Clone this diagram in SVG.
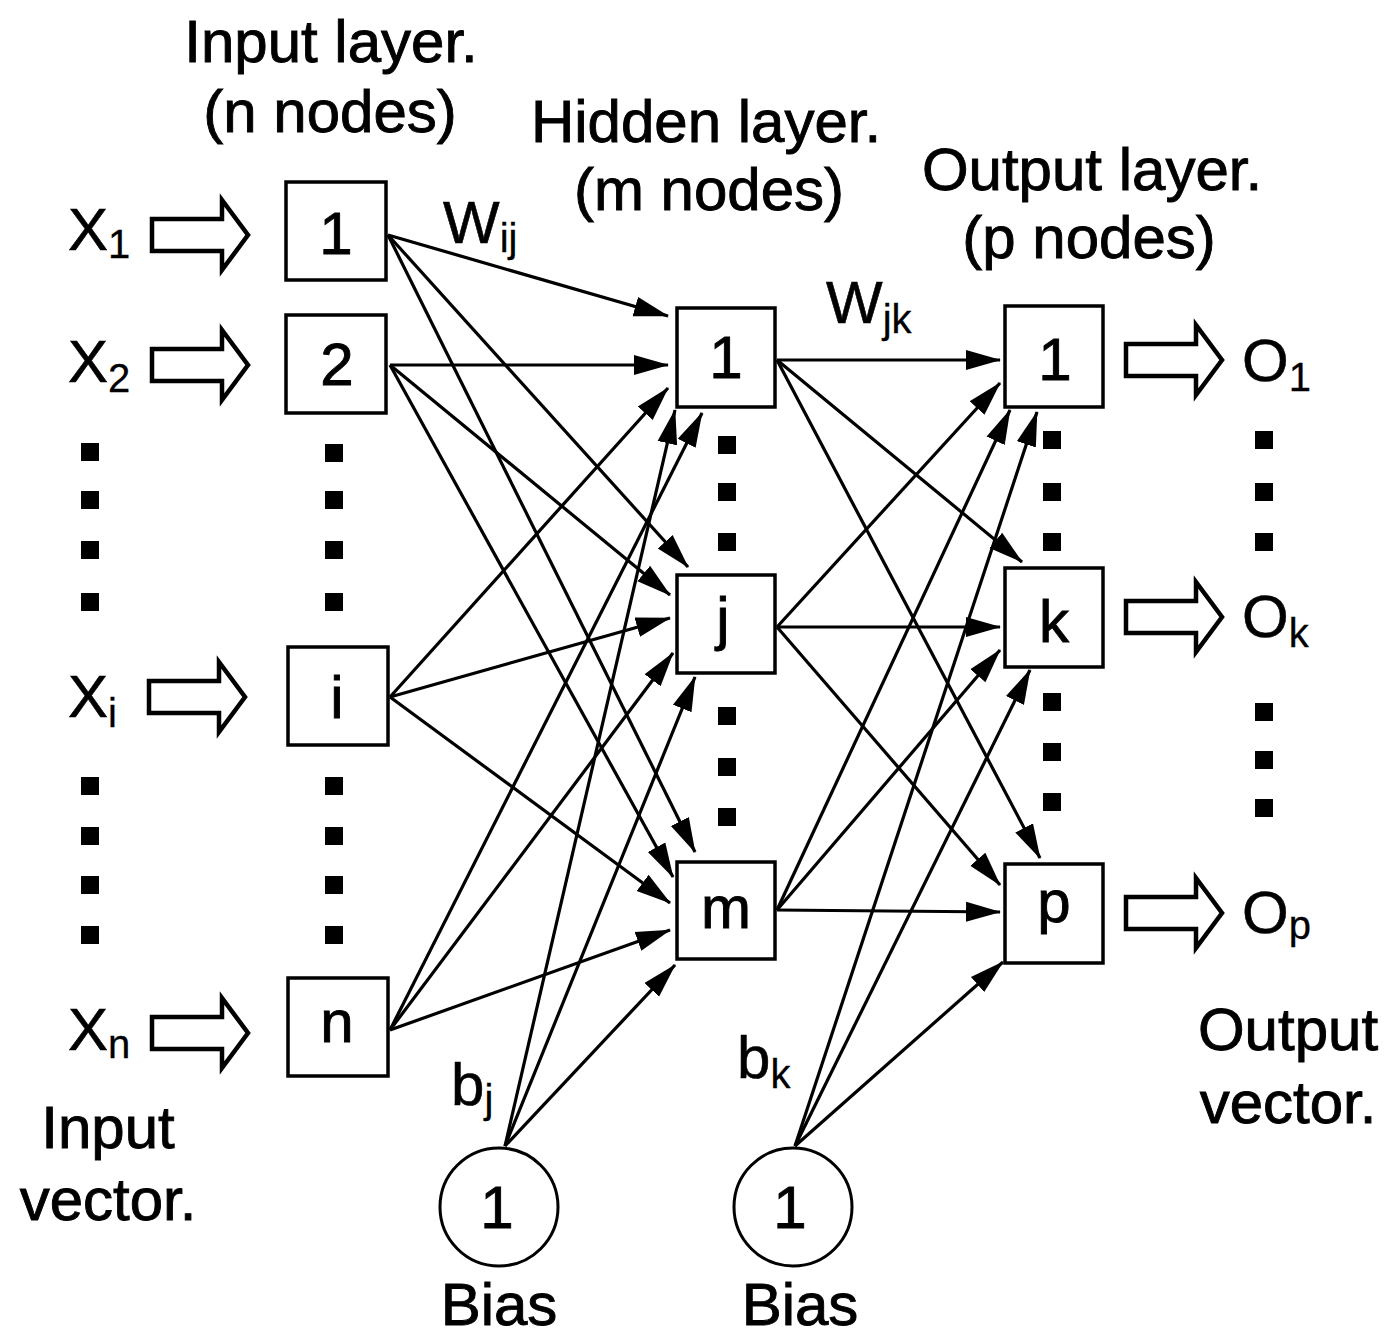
<svg xmlns="http://www.w3.org/2000/svg" xmlns:xlink="http://www.w3.org/1999/xlink" width="1400" height="1337" viewBox="0 0 1400 1337">
<style>
text{font-family:"Liberation Sans",Arial,sans-serif;fill:#000}
.lbl{font-size:60px;text-anchor:middle;stroke:#000;stroke-width:0.9}
.num{font-size:60px;text-anchor:middle;stroke:#000;stroke-width:0.9}
.sym{font-size:60px;stroke:#000;stroke-width:0.6}
.sub{font-size:40px;stroke-width:0.3}
.box{fill:#fff;stroke:#000;stroke-width:3.5}
.bias{fill:#fff;stroke:#000;stroke-width:3}
.blk{fill:#fff;stroke:#000;stroke-width:4.5;stroke-linejoin:miter}
.conn line{stroke:#000;stroke-width:3.2;marker-end:url(#ah)}
</style>
<defs>
<marker id="ah" markerUnits="userSpaceOnUse" markerWidth="35" markerHeight="22" viewBox="0 0 35 22" refX="34" refY="11" orient="auto"><path d="M0,1 L35,11 L0,21 Z" fill="#000"/></marker>
<path id="barrow" d="M0,-16 L70,-16 L70,-35 L96,0 L70,35 L70,16 L0,16 Z"/>
<rect id="dot" x="-9" y="-9" width="18" height="18" fill="#000"/>
</defs>
<rect width="1400" height="1337" fill="#fff"/>

<g id="labels">
<text class="lbl" x="331" y="62">Input layer.</text>
<text class="lbl" x="330" y="132">(n nodes)</text>
<text class="lbl" x="706" y="142">Hidden layer.</text>
<text class="lbl" x="709" y="210">(m nodes)</text>
<text class="lbl" x="1092" y="190">Output layer.</text>
<text class="lbl" x="1089" y="258">(p nodes)</text>
<text class="lbl" x="108" y="1148">Input</text>
<text class="lbl" x="108" y="1220">vector.</text>
<text class="lbl" x="1288" y="1050">Output</text>
<text class="lbl" x="1288" y="1123">vector.</text>
<text class="sym" x="443" y="243">W<tspan class="sub" dy="9">ij</tspan></text>
<text class="sym" x="826" y="323">W<tspan class="sub" dy="10">jk</tspan></text>
<text class="sym" x="451" y="1105">b<tspan class="sub" dy="8">j</tspan></text>
<text class="sym" x="737" y="1078">b<tspan class="sub" dy="10">k</tspan></text>
</g>

<g id="inputs">
<text class="sym" x="68" y="250">X<tspan class="sub" dy="8">1</tspan></text>
<text class="sym" x="68" y="382">X<tspan class="sub" dy="10">2</tspan></text>
<text class="sym" x="68" y="717">X<tspan class="sub" dy="10">i</tspan></text>
<text class="sym" x="68" y="1050">X<tspan class="sub" dy="8">n</tspan></text>
<use href="#barrow" class="blk" transform="translate(152,235)"/>
<use href="#barrow" class="blk" transform="translate(152,365)"/>
<use href="#barrow" class="blk" transform="translate(149,697)"/>
<use href="#barrow" class="blk" transform="translate(152,1033)"/>
</g>

<g id="outputs">
<use href="#barrow" class="blk" transform="translate(1126,360)"/>
<use href="#barrow" class="blk" transform="translate(1126,617)"/>
<use href="#barrow" class="blk" transform="translate(1126,913)"/>
<text class="sym" x="1242" y="381" font-size="58">O<tspan class="sub" dy="10">1</tspan></text>
<text class="sym" x="1242" y="637" font-size="58">O<tspan class="sub" dy="10">k</tspan></text>
<text class="sym" x="1242" y="933" font-size="58">O<tspan class="sub" dy="6">p</tspan></text>
</g>

<g id="dots">
<use href="#dot" x="90" y="452"/><use href="#dot" x="90" y="500"/><use href="#dot" x="90" y="550"/><use href="#dot" x="90" y="602"/>
<use href="#dot" x="90" y="786"/><use href="#dot" x="90" y="836"/><use href="#dot" x="90" y="885"/><use href="#dot" x="90" y="935"/>
<use href="#dot" x="334" y="453"/><use href="#dot" x="334" y="500"/><use href="#dot" x="334" y="550"/><use href="#dot" x="334" y="602"/>
<use href="#dot" x="334" y="786"/><use href="#dot" x="334" y="836"/><use href="#dot" x="334" y="885"/><use href="#dot" x="334" y="935"/>
<use href="#dot" x="727" y="445"/><use href="#dot" x="727" y="492"/><use href="#dot" x="727" y="542"/>
<use href="#dot" x="727" y="716"/><use href="#dot" x="727" y="767"/><use href="#dot" x="727" y="817"/>
<use href="#dot" x="1052" y="440"/><use href="#dot" x="1052" y="492"/><use href="#dot" x="1052" y="542"/>
<use href="#dot" x="1052" y="702"/><use href="#dot" x="1052" y="752"/><use href="#dot" x="1052" y="802"/>
<use href="#dot" x="1264" y="440"/><use href="#dot" x="1264" y="492"/><use href="#dot" x="1264" y="542"/>
<use href="#dot" x="1264" y="712"/><use href="#dot" x="1264" y="760"/><use href="#dot" x="1264" y="808"/>
</g>

<g id="connectors" class="conn">
<line x1="388" y1="235" x2="668" y2="316"/>
<line x1="388" y1="235" x2="688" y2="567"/>
<line x1="388" y1="235" x2="695" y2="852"/>
<line x1="390" y1="365" x2="668" y2="365"/>
<line x1="390" y1="365" x2="670" y2="595"/>
<line x1="390" y1="365" x2="673" y2="877"/>
<line x1="390" y1="697" x2="668" y2="388"/>
<line x1="390" y1="697" x2="670" y2="618"/>
<line x1="390" y1="697" x2="670" y2="903"/>
<line x1="390" y1="1030" x2="702" y2="413"/>
<line x1="390" y1="1030" x2="673" y2="653"/>
<line x1="390" y1="1030" x2="670" y2="930"/>
<line x1="505" y1="1146" x2="675" y2="410"/>
<line x1="505" y1="1146" x2="695" y2="677"/>
<line x1="505" y1="1146" x2="675" y2="965"/>
<line x1="777" y1="360" x2="1000" y2="360"/>
<line x1="777" y1="360" x2="1022" y2="562"/>
<line x1="777" y1="360" x2="1040" y2="858"/>
<line x1="777" y1="627" x2="1000" y2="383"/>
<line x1="777" y1="627" x2="1000" y2="627"/>
<line x1="777" y1="627" x2="1000" y2="885"/>
<line x1="777" y1="910" x2="1010" y2="410"/>
<line x1="777" y1="910" x2="1000" y2="650"/>
<line x1="777" y1="910" x2="1000" y2="912"/>
<line x1="795" y1="1146" x2="1037" y2="412"/>
<line x1="795" y1="1146" x2="1030" y2="670"/>
<line x1="795" y1="1146" x2="1003" y2="962"/>
</g>

<g id="in1"><rect class="box" x="286" y="182" width="100" height="98"/><text class="num" x="336" y="254">1</text></g>
<g id="in2"><rect class="box" x="286" y="315" width="100" height="98"/><text class="num" x="337" y="385">2</text></g>
<g id="ini"><rect class="box" x="288" y="647" width="100" height="98"/><text class="num" x="337" y="718">i</text></g>
<g id="inn"><rect class="box" x="288" y="978" width="100" height="98"/><text class="num" x="337" y="1042">n</text></g>

<g id="h1"><rect class="box" x="677" y="308" width="98" height="99"/><text class="num" x="726" y="378">1</text></g>
<g id="hj"><rect class="box" x="677" y="575" width="98" height="98"/><text class="num" x="723" y="639">j</text></g>
<g id="hm"><rect class="box" x="677" y="862" width="98" height="97"/><text class="num" x="726" y="928">m</text></g>

<g id="o1"><rect class="box" x="1005" y="306" width="98" height="101"/><text class="num" x="1055" y="380">1</text></g>
<g id="ok"><rect class="box" x="1005" y="568" width="98" height="99"/><text class="num" x="1054" y="642">k</text></g>
<g id="op"><rect class="box" x="1005" y="864" width="98" height="99"/><text class="num" x="1054" y="922">p</text></g>

<g id="bias1"><circle class="bias" cx="499" cy="1207" r="59"/><text class="num" x="497" y="1228">1</text><text class="lbl" x="499" y="1325" font-size="56">Bias</text></g>
<g id="bias2"><circle class="bias" cx="793" cy="1207" r="59"/><text class="num" x="790" y="1228">1</text><text class="lbl" x="800" y="1325" font-size="56">Bias</text></g>
</svg>
